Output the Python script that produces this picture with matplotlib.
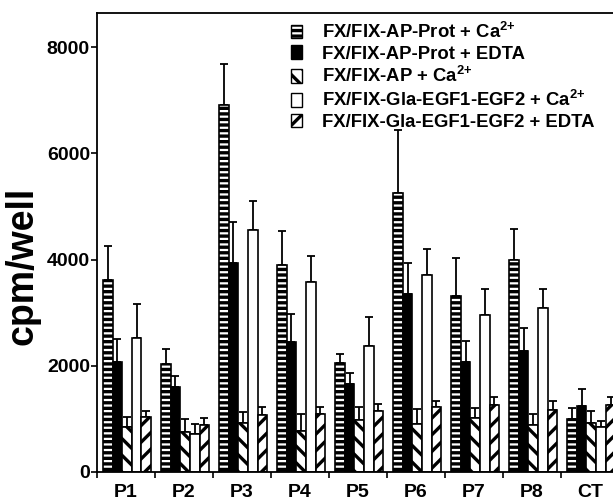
import matplotlib
matplotlib.use("Agg")
import matplotlib.pyplot as plt
from matplotlib.patches import Patch
import numpy as np

plt.rcParams['font.family'] = ['Liberation Sans', 'DejaVu Sans']
plt.rcParams['font.weight'] = 'bold'
plt.rcParams['hatch.linewidth'] = 2.4
plt.rcParams['mathtext.fontset'] = 'custom'
plt.rcParams['mathtext.bf'] = 'Liberation Sans:bold'
plt.rcParams['mathtext.rm'] = 'Liberation Sans:bold'
plt.rcParams['mathtext.default'] = 'bf'

groups = ['P1', 'P2', 'P3', 'P4', 'P5', 'P6', 'P7', 'P8', 'CT']
series_names = ['FX/FIX-AP-Prot + Ca$^{2{+}}$',
                'FX/FIX-AP-Prot + EDTA',
                'FX/FIX-AP + Ca$^{2{+}}$',
                'FX/FIX-Gla-EGF1-EGF2 + Ca$^{2{+}}$',
                'FX/FIX-Gla-EGF1-EGF2 + EDTA']

prot_ca = [3620, 2030, 6910, 3900, 2050, 5250, 3320, 4000, 990]
prot_ca_err = [640, 295, 770, 630, 170, 1180, 700, 570, 220]
prot_edta = [2080, 1600, 3940, 2440, 1660, 3350, 2070, 2270, 1240]
prot_edta_err = [425, 200, 770, 535, 210, 590, 405, 440, 315]
ap_ca = [850, 760, 920, 770, 970, 900, 1010, 885, 930]
ap_ca_err = [190, 230, 205, 315, 250, 280, 200, 200, 220]
gla_ca = [2530, 720, 4560, 3570, 2380, 3710, 2960, 3090, 840]
gla_ca_err = [635, 185, 545, 500, 530, 485, 485, 350, 120]
gla_edta = [1040, 880, 1070, 1090, 1155, 1220, 1260, 1170, 1260]
gla_edta_err = [115, 130, 160, 130, 125, 125, 145, 175, 155]

values = [prot_ca, prot_edta, ap_ca, gla_ca, gla_edta]
errors = [prot_ca_err, prot_edta_err, ap_ca_err, gla_ca_err, gla_edta_err]
fills = ['white', 'black', 'white', 'white', 'white']
hatches = ['---', None, '\\\\', None, '//']

fig = plt.figure(figsize=(6.13, 5.04), dpi=100)
ax = fig.add_axes([0.158, 0.0635, 0.852, 0.9105])

x = np.arange(len(groups))
w = 0.166
for i in range(5):
    pos = x + (i - 2) * w + 0.02
    ax.bar(pos, values[i], w, color=fills[i], edgecolor='black', linewidth=1.2,
           hatch=hatches[i], zorder=2)
    ax.errorbar(pos, values[i], yerr=[np.zeros(len(groups)), errors[i]], fmt='none',
                ecolor='black', elinewidth=1.3, capsize=3, capthick=1.3, zorder=1)

ax.set_xlim(-0.5, len(groups) - 0.5)
ax.set_ylim(0, 8640)
ax.set_yticks([0, 2000, 4000, 6000, 8000])
ax.set_yticklabels(['0', '2000', '4000', '6000', '8000'], fontsize=14, fontweight='bold')
ax.set_xticks(x)
ax.set_xticklabels(groups, fontsize=14, fontweight='bold')
ax.set_xticks(np.arange(len(groups) + 1) - 0.5, minor=True)
ax.tick_params(axis='x', which='major', length=0, pad=9)
ax.tick_params(axis='x', which='minor', length=4, width=1.2, direction='out')
ax.tick_params(axis='y', length=4, width=1.2, direction='out', pad=1)
ax.set_ylabel('cpm/well', fontsize=27, fontweight='bold')
ax.yaxis.set_label_coords(-0.107, 0.449)

for s in ['left', 'bottom', 'top']:
    ax.spines[s].set_linewidth(1.3)
ax.spines['right'].set_visible(False)

handles = [Patch(facecolor=fills[i], edgecolor='black', hatch=hatches[i], linewidth=1.0)
           for i in range(5)]
fig.legend(handles, series_names, loc='upper left', bbox_to_anchor=(0.447, 0.99),
           frameon=False, handlelength=0.62, handleheight=0.75,
           handletextpad=1.1, labelspacing=0.2, prop={'weight': 'bold', 'size': 13.3})

fig.savefig('out.png', dpi=100)
